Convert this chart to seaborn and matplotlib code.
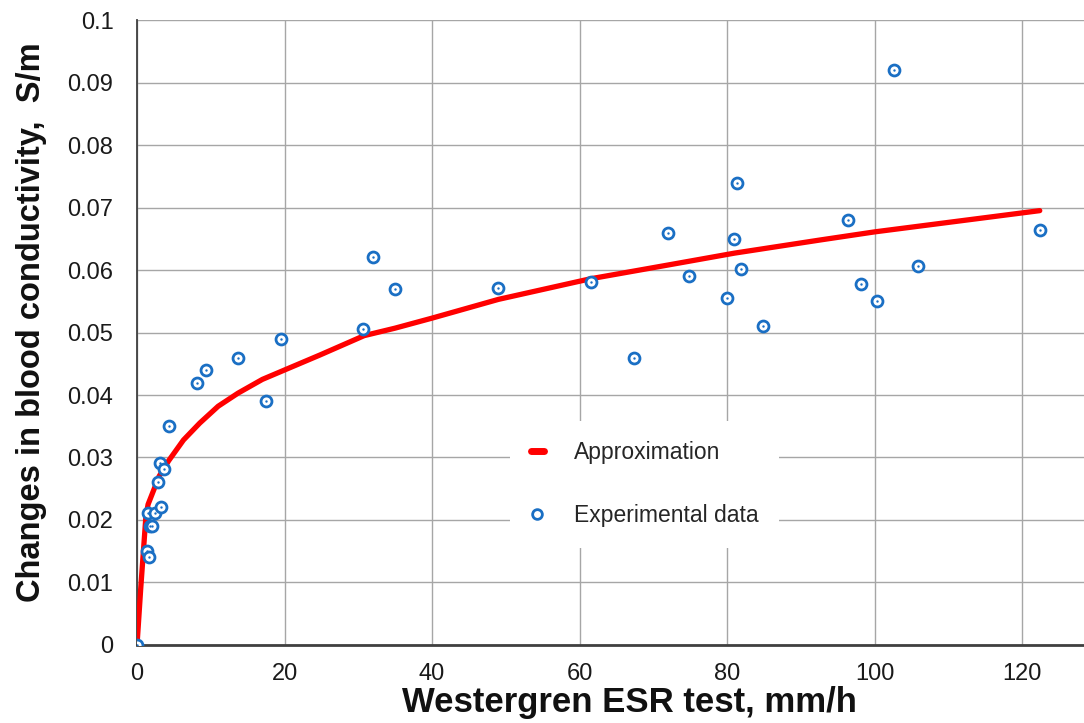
import numpy as np
import pandas as pd
import matplotlib
matplotlib.use("Agg")
import matplotlib.pyplot as plt
import seaborn as sns
from matplotlib.ticker import FuncFormatter
from matplotlib.lines import Line2D

# experimental points (ESR, mm/h -> conductivity change, S/m)
esr_exp = [0, 1.4, 1.6, 1.5, 1.8, 2.0, 2.5, 3.3, 2.9, 3.1, 3.6, 4.3,
           8.1, 9.4, 13.7, 17.5, 19.5, 30.7, 32.0, 35.0, 49.0, 61.5,
           67.4, 72.0, 74.9, 80.0, 81.0, 81.4, 81.9, 84.9, 96.4, 98.1,
           100.4, 102.6, 105.9, 122.4]
cond_exp = [0, 0.0151, 0.014, 0.0211, 0.019, 0.019, 0.0211, 0.0221, 0.026, 0.0291, 0.0281, 0.0351,
            0.042, 0.044, 0.046, 0.0391, 0.049, 0.0505, 0.0621, 0.057, 0.0572, 0.0581,
            0.046, 0.0659, 0.059, 0.0556, 0.065, 0.074, 0.0601, 0.051, 0.068, 0.0578,
            0.055, 0.092, 0.0606, 0.0664]

# approximation curve
esr_fit = [0, 0.5, 1.2, 1.5, 2.0, 3.0, 4.3, 6.3, 8.5, 11.0, 13.7, 17.0, 20.0, 24.8,
           30.8, 35.0, 40.0, 49.0, 61.5, 72.0, 81.0, 92.6, 100.0, 122.4]
cond_fit = [0, 0.009, 0.0205, 0.0225, 0.024, 0.027, 0.0295, 0.0328, 0.0355, 0.0382, 0.0403, 0.0425,
            0.044, 0.0464, 0.0495, 0.0507, 0.0523, 0.0553, 0.0586, 0.0608, 0.0627, 0.0648, 0.0661, 0.0695]

exp_df = pd.DataFrame({"esr": esr_exp, "cond": cond_exp})
fit_df = pd.DataFrame({"esr": esr_fit, "cond": cond_fit})

sns.set_style("white")
plt.rcParams['font.family'] = ['Liberation Sans', 'DejaVu Sans']

red = "#ff0000"
blue = "#1a6fc4"

fig = plt.figure(figsize=(10.84, 7.23), dpi=100)
ax = fig.add_axes([0.1264, 0.1079, 0.8736, 0.8644])

sns.lineplot(data=fit_df, x="esr", y="cond", sort=False, color=red, linewidth=3.8,
             solid_capstyle="round", solid_joinstyle="round", ax=ax, zorder=3)
sns.scatterplot(data=exp_df, x="esr", y="cond", marker="o", s=62, facecolor="white",
                edgecolor=blue, linewidth=2.0, ax=ax, zorder=4)
sns.scatterplot(data=exp_df, x="esr", y="cond", marker="o", s=3, color=blue,
                linewidth=0, ax=ax, zorder=5)

ax.set_xlim(0, 128.4)
ax.set_ylim(0, 0.1)
ax.set_xticks(np.arange(0, 121, 20))
ax.set_yticks(np.arange(0, 0.1001, 0.01))
ax.yaxis.set_major_formatter(FuncFormatter(lambda v, p: "{:g}".format(round(v, 3))))
ax.grid(True, color="#a6a6a6", linewidth=1.0)
ax.set_axisbelow(True)

for s in ["top", "right"]:
    ax.spines[s].set_visible(False)
ax.spines["left"].set_color("#404040")
ax.spines["left"].set_linewidth(1.3)
ax.spines["bottom"].set_color("#404040")
ax.spines["bottom"].set_linewidth(2.0)

ax.tick_params(axis="both", length=0, labelsize=17, colors="#1a1a1a")
ax.tick_params(axis="y", pad=17)
ax.tick_params(axis="x", pad=13)
ax.set_xlabel("Westergren ESR test, mm/h", fontsize=25, fontweight="bold", color="#111111")
ax.set_ylabel("Changes in blood conductivity,  S/m", fontsize=23.5, fontweight="bold", color="#111111")
ax.xaxis.set_label_coords(0.52, -0.066)
ax.yaxis.set_label_coords(-0.095, 0.517)

handles = [Line2D([0], [0], color=red, linewidth=5, solid_capstyle="round"),
           Line2D([0], [0], marker="o", linestyle="none", markersize=7,
                  markerfacecolor="white", markeredgecolor=blue, markeredgewidth=2)]
leg = ax.legend(handles, ["Approximation", "Experimental data"], loc="center",
                bbox_to_anchor=(0.536, 0.257), fontsize=16.5, frameon=True,
                handlelength=0.6, handletextpad=1.3, labelspacing=1.75,
                borderpad=0.9, fancybox=False)
leg.get_frame().set_facecolor("white")
leg.get_frame().set_edgecolor("none")
leg.get_frame().set_alpha(1)

fig.savefig("out.png", dpi=100)
